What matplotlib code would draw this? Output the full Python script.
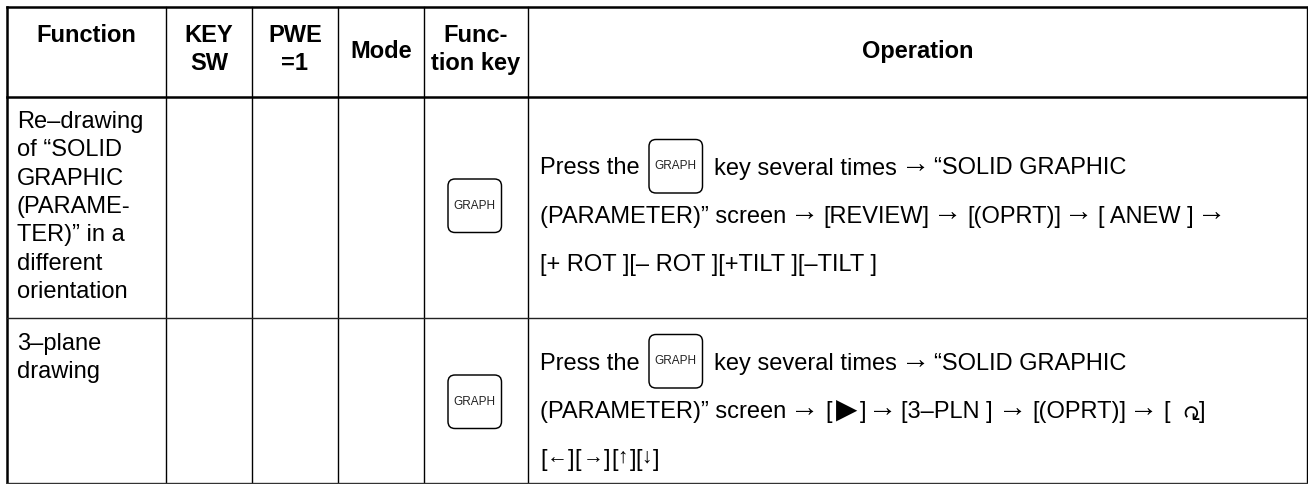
import matplotlib
matplotlib.use("Agg")
import matplotlib.pyplot as plt
from matplotlib.patches import FancyBboxPatch

plt.rcParams['font.family'] = ['Liberation Sans', 'DejaVu Sans']

W = 1308
H = 484

# table grid, in pixels of the page
col_x = [7, 166, 252, 338, 424, 528, 1307]
row_y = [7, 97, 318, 483]

headers = [["Function"], ["KEY", "SW"], ["PWE", "=1"], ["Mode"], ["Func-", "tion key"], ["Operation"]]

row1_func = ["Re–drawing", "of “SOLID", "GRAPHIC", "(PARAME-", "TER)” in a", "different", "orientation"]
row2_func = ["3–plane", "drawing"]

key_label = "GRAPH"

# (x, text) pieces of each line, arrows are placed on their own because they are bigger
row1_ops = [
    [(540, "Press the"), (714, "key several times"), (916, "→"), (934, "“SOLID GRAPHIC")],
    [(540, "(PARAMETER)” screen"), (805, "→"), (823, "[REVIEW]"), (948, "→"), (967, "[(OPRT)]"),
     (1079, "→"), (1098, "[ ANEW ]"), (1212, "→")],
    [(540, "[+ ROT ][– ROT ][+TILT ][–TILT ]")],
]
row2_ops = [
    [(540, "Press the"), (714, "key several times"), (916, "→"), (934, "“SOLID GRAPHIC")],
    [(540, "(PARAMETER)” screen"), (805, "→"), (825, "["), (860, "]"), (883, "→"), (901, "[3–PLN ]"),
     (1013, "→"), (1032, "[(OPRT)]"), (1144, "→"), (1163, "["), (1199, "]")],
    [(540, "["), (557, "←"), (567.5, "]"), (574, "["), (593, "→"), (603.5, "]"),
     (611, "["), (623, "↑"), (629.5, "]"), (635, "["), (647, "↓"), (653, "]")],
]
arrows = "←→↑↓"

fig = plt.figure(figsize=(W / 100, H / 100), dpi=100)
ax = fig.add_axes([0, 0, 1, 1])
ax.set_xlim(0, W)
ax.set_ylim(H, 0)
ax.axis("off")

# grid lines, the outer left and top and the header rule are heavier
for i, x in enumerate(col_x):
    lw = 1.8 if i == 0 else 1.0
    ax.plot([x, x], [row_y[0], row_y[-1]], color="black", lw=lw, solid_capstyle="projecting")
ax.plot([col_x[0], col_x[-1]], [row_y[0], row_y[0]], color="black", lw=1.8)
ax.plot([col_x[0], col_x[-1]], [row_y[1], row_y[1]], color="black", lw=1.8)
ax.plot([col_x[0], col_x[-1]], [row_y[2], row_y[2]], color="#222222", lw=1.0)
ax.plot([col_x[0], col_x[-1]], [row_y[3], row_y[3]], color="#333333", lw=1.0)


def draw_key(x0, y0, size=53.5):
    box = FancyBboxPatch((x0 + 6, y0 + 6), size - 12, size - 12, boxstyle="round,pad=6,rounding_size=7",
                         fc="white", ec="black", lw=1.05)
    ax.add_patch(box)
    ax.text(x0 + size / 2, y0 + size / 2, key_label, fontsize=8.5, ha="center", va="center", color="#222222")


# header
for i, lines in enumerate(headers):
    cx = (col_x[i] + col_x[i + 1]) / 2
    if len(lines) == 2:
        ys = [42, 70]
    elif i == 0:
        ys = [42]
    else:
        ys = [58]
    for txt, y in zip(lines, ys):
        ax.text(cx, y, txt, fontsize=17, fontweight="bold", ha="center", va="baseline")

# function column
for i, txt in enumerate(row1_func):
    ax.text(17, 128 + i * 28.3, txt, fontsize=17, ha="left", va="baseline")
for i, txt in enumerate(row2_func):
    ax.text(17, 350 + i * 28.3, txt, fontsize=17, ha="left", va="baseline")

# operation column
for ops, base in [(row1_ops, 174.5), (row2_ops, 370)]:
    for i, parts in enumerate(ops):
        y = base + i * 48
        for x, txt in parts:
            if txt in arrows:
                # the last line has its arrows tight between the brackets
                if i == 2:
                    ax.text(x, y - 3, txt, fontsize=15, ha="center", va="baseline")
                else:
                    ax.text(x, y - 2, txt, fontsize=21, ha="center", va="baseline")
            else:
                ax.text(x, y, txt, fontsize=17, ha="left", va="baseline")

# soft key symbols in the second row
ax.text(847, 410, "▶", fontsize=20, family="DejaVu Sans", ha="center", va="center")
ax.text(1189, 410, "↻", fontsize=16, family="DejaVu Sans", rotation=180, ha="center", va="center")

# keys
draw_key(448, 179)
draw_key(448, 375)
draw_key(649, 139.5)
draw_key(649, 334.5)

fig.savefig("out.png", dpi=100, facecolor="white")
